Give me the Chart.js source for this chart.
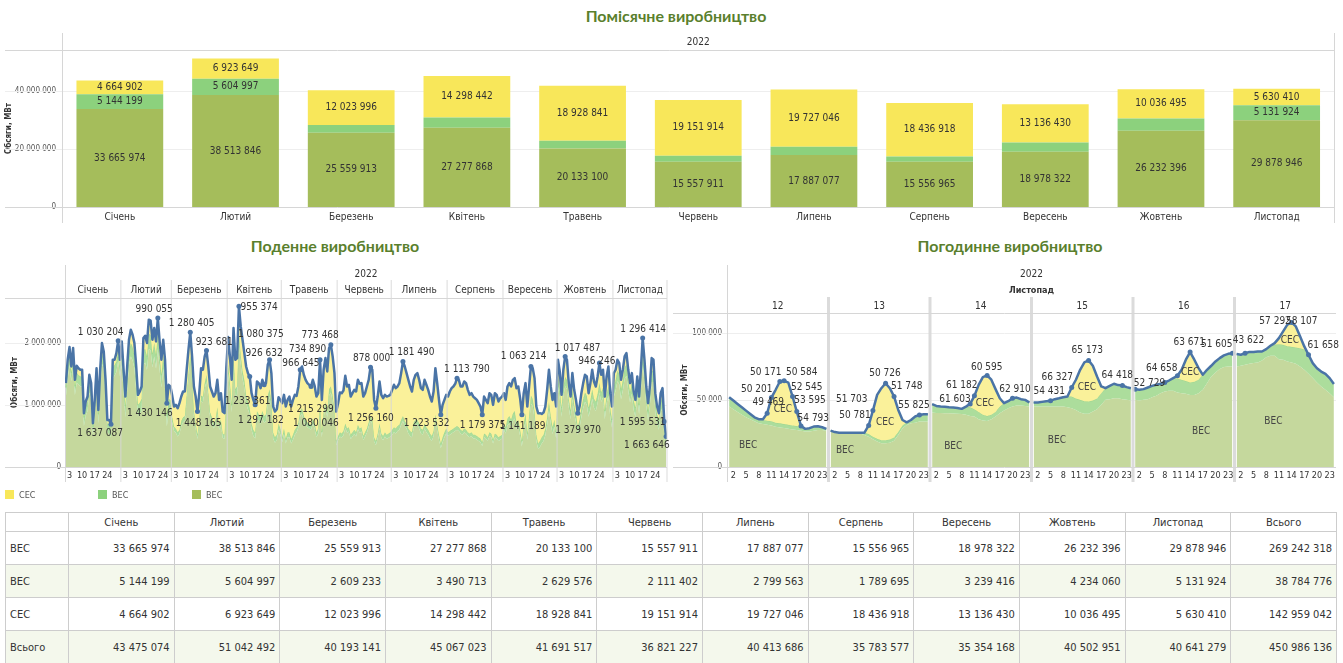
<!DOCTYPE html>
<html lang="uk">
<head>
<meta charset="utf-8">
<title>Виробництво 2022</title>
<script src="https://cdn.jsdelivr.net/npm/chart.js@4/dist/chart.umd.min.js"></script>
<style>
  html, body { margin: 0; padding: 0; background: #fff; }
  body { position: relative; width: 1343px; height: 663px; overflow: hidden;
         font-family: 'Liberation Sans Narrow', 'DejaVu Sans Condensed', Lato, sans-serif; color: #333; }
  .title { position: absolute; font: bold 16px Lato, sans-serif; line-height: 20px; color: #5a7f2d;
           transform: translateX(-50%); white-space: nowrap; }
  canvas { position: absolute; }
  #legend { position: absolute; left: 0; top: 489px; width: 400px; height: 12px; font-size: 9px; color: #555; }
  #legend span { position: absolute; top: 0; white-space: nowrap; line-height: 12px; }
  #legend i { display: inline-block; width: 9px; height: 9px; vertical-align: -1px; margin-right: 5px; }
  #tbl { position: absolute; left: 5px; top: 512px; border-collapse: collapse; table-layout: fixed;
         width: 1332px; font-size: 11px; color: #333; }
  #tbl th, #tbl td { border: 1px solid #cdcdcd; padding: 0 4px; white-space: nowrap; overflow: hidden; }
  #tbl th { font-weight: normal; height: 18px; text-align: center; }
  #tbl td { height: 32px; text-align: right; }
  #tbl td.name { text-align: left; }
  #tbl tr.alt td { background: #f4f8ec; }
</style>
</head>
<body>
<div class="title" style="left:676px; top:6px">Помісячне виробництво</div>
<div class="title" style="left:335px; top:236px">Поденне виробництво</div>
<div class="title" style="left:1010px; top:236px">Погодинне виробництво</div>

<canvas id="monthly" width="1343" height="200" style="left:0; top:28px"></canvas>
<canvas id="daily" width="672" height="232" style="left:0; top:258px"></canvas>
<canvas id="hourly" width="671" height="232" style="left:672px; top:258px"></canvas>

<div id="legend"></div>
<table id="tbl"></table>

<script>
const FONT = "'Liberation Sans Narrow', 'DejaVu Sans Condensed', Lato, sans-serif";
Chart.defaults.font.family = FONT;
Chart.defaults.color = '#333';

// ---- monthly data (MWh) ----
const months = ['Січень', 'Лютий', 'Березень', 'Квітень', 'Травень', 'Червень',
                'Липень', 'Серпень', 'Вересень', 'Жовтень', 'Листопад'];
const monthVes  = [33665974, 38513846, 25559913, 27277868, 20133100, 15557911, 17887077, 15556965, 18978322, 26232396, 29878946];
const monthVes2 = [5144199, 5604997, 2609233, 3490713, 2629576, 2111402, 2799563, 1789695, 3239416, 4234060, 5131924];
const monthSes  = [4664902, 6923649, 12023996, 14298442, 18928841, 19151914, 19727046, 18436918, 13136430, 10036495, 5630410];
const monthTotal = [43475074, 51042492, 40193141, 45067023, 41691517, 36821227, 40413686, 35783577, 35354168, 40502951, 40641279];
const seriesTotal = [269242318, 38784776, 142959042, 450986136];
const monthTicks = [0, 20000000, 40000000];

// ---- daily data (thousand MWh), one row per month ----
const monthDays = [31, 28, 31, 30, 31, 30, 31, 31, 30, 31, 30];
const dayTicks = [3, 10, 17, 24];
const dailyTotalK = [
  1350,1726,1930,1618,1914,1403,1630,1590,1565,1565,866,1054,1134,1484,1350,704,1080,1590,919,1565,1995,1860,1403,758,758,688,1726,1726,1833,2032,1726,
  2020,1565,1134,1618,2048,2210,2129,1995,1618,1161,1215,1296,2075,2113,1995,2371,2355,2048,2236,2021,2398,2021,1726,2048,1726,1027,1323,1296,
  1145,973,1000,946,1027,1134,1215,1215,1565,1887,2167,1780,1296,1134,892,1188,1591,1565,1780,1876,1618,1296,1215,1134,1188,1403,1080,1188,892,866,1591,
  2091,1780,1403,2236,1726,1753,2586,2263,2048,1833,1618,1511,1457,1188,1080,1000,1376,1350,1269,1403,1323,1350,1645,1726,1511,973,892,930,1124,1080,
  1027,1161,973,1080,1134,973,1080,1161,1145,1296,1565,1618,1484,1403,1350,1323,1296,1403,1306,1134,1188,1726,1080,1565,1753,1538,1914,1968,1780,1511,892,
  1027,1199,1188,1231,1468,1296,1323,1134,1188,1242,1215,1403,1339,1350,1134,1188,1296,1403,1607,1565,1080,946,1134,1376,1161,1107,1161,1134,1145,1161,
  1242,1323,1269,1296,1350,1511,1699,1618,1511,1403,1296,1215,1403,1484,1511,1403,1269,1242,1403,1323,1242,1134,1054,1215,1591,1350,1080,839,1000,1080,1161,
  1134,1215,1269,1296,1339,1430,1403,1296,1296,1376,1350,1242,1161,1188,1134,1107,1080,1027,973,839,1134,1080,1027,1188,1161,1000,1188,1161,1054,1107,1134,
  1188,1080,1296,1350,1296,1403,1430,1269,1296,1107,839,1188,1350,973,1296,1618,1591,1430,973,866,866,855,876,973,1242,1565,1296,1080,1188,973,
  1726,1538,1161,1565,1780,1726,1350,1134,1511,1242,1080,866,973,1188,1350,1484,1457,1188,1350,1565,1376,1296,1457,1672,1484,1565,1134,1457,1618,1188,973,
  1511,1565,1726,1672,1403,1565,1780,1833,1565,1350,1511,1215,1080,1457,1134,1565,2075,1726,1296,1027,1296,1753,1726,1188,973,866,1188,1269,731,489
];
// top of the light green (ВЕС) band
const dailyGreenTopK = [
  1280,1600,1800,1520,1760,1300,1520,1480,1460,1450,800,980,1060,1360,1240,640,1000,1470,850,1430,1830,1740,1300,700,690,630,1600,1640,1700,1880,1620,
  1850,1420,980,1450,1850,2000,1930,1800,1420,1000,1040,1100,1880,1900,1780,2150,2120,1820,2000,1800,2150,1780,1480,1800,1480,830,1100,1080,
  800,650,620,560,600,740,800,820,1150,1500,1800,1420,900,700,520,760,1150,1130,1350,1480,1200,880,800,700,760,960,680,760,540,520,1100,
  1650,1350,1000,1800,1250,1300,2150,1800,1550,1400,1150,1050,950,700,600,550,900,850,800,900,820,850,1150,1250,1050,550,480,520,700,620,
  480,620,450,560,560,450,520,600,640,720,900,950,820,760,720,700,680,780,700,560,620,1000,560,880,1050,880,1250,1300,1150,900,420,
  500,560,540,580,700,620,640,520,560,600,560,680,620,640,500,560,620,720,820,760,480,420,540,700,540,500,560,520,540,560,
  600,640,620,660,680,760,820,740,700,620,580,560,720,760,760,700,620,600,700,640,600,540,500,580,840,680,520,380,480,560,620,
  560,580,600,620,640,660,640,600,580,620,600,560,540,560,520,520,500,480,460,400,540,520,480,560,540,440,540,520,480,500,520,
  700,640,780,820,760,860,900,720,760,600,420,700,860,540,820,1150,1100,900,520,380,420,480,520,620,800,1050,820,640,760,560,
  1450,1250,950,1300,1450,1400,1100,900,1250,1000,850,650,760,950,1100,1200,1150,950,1080,1250,1100,1050,1180,1350,1200,1280,900,1180,1300,950,760,
  1300,1400,1550,1500,1250,1400,1600,1650,1400,1200,1350,1080,950,1300,1000,1400,1850,1550,1150,900,1150,1550,1550,1050,850,750,1050,1120,640,420
];
// top of the olive (ВЕС) area
const dailyVesTopK = [
  1130,1430,1640,1380,1600,1160,1360,1330,1300,1290,660,830,900,1200,1090,500,850,1310,700,1270,1660,1580,1150,560,540,480,1430,1470,1530,1710,1460,
  1640,1230,800,1240,1640,1780,1720,1590,1220,820,860,900,1650,1680,1560,1900,1880,1600,1780,1580,1900,1560,1280,1580,1270,650,900,880,
  720,580,550,490,530,660,720,740,1060,1400,1700,1330,820,620,450,680,1060,1040,1260,1380,1100,800,720,620,680,870,600,680,470,450,1000,
  1500,1220,880,1650,1120,1170,2000,1660,1420,1280,1030,930,840,600,500,460,790,740,690,790,710,740,1030,1130,940,460,390,430,600,520,
  400,540,380,480,480,380,440,520,560,640,820,860,740,680,640,620,600,700,620,480,540,920,480,800,960,800,1150,1200,1060,820,350,
  430,490,470,510,630,550,570,450,490,530,490,610,550,570,430,490,550,650,750,690,410,350,470,630,470,430,490,450,470,490,
  520,560,540,580,600,680,740,660,620,540,500,480,640,680,680,620,540,520,620,560,520,460,420,500,760,600,440,300,400,480,540,
  500,520,540,560,580,600,580,540,520,560,540,500,480,500,460,460,440,420,400,340,480,460,420,500,480,380,480,460,420,440,460,
  600,540,670,700,650,740,780,610,650,500,330,590,740,440,700,1020,980,780,420,290,320,380,420,510,680,920,700,530,650,460,
  1300,1100,810,1150,1300,1250,960,770,1100,860,720,520,630,810,950,1050,1000,810,930,1100,950,900,1030,1200,1050,1120,770,1030,1150,810,630,
  1130,1230,1380,1330,1090,1230,1420,1470,1230,1040,1180,920,800,1130,850,1230,1650,1370,990,750,990,1370,1370,890,700,600,890,950,500,300
];
const dailyDots = [25, 29, 51, 56, 69, 73, 78, 96, 102, 105, 110, 113, 130, 136, 141, 147, 169, 172, 187, 208, 217, 231, 253, 258, 277, 284, 296, 320, 332, 333];
// [day index, value (thousand MWh), text]
const dailyLabels = [
  [19.3, 2166, '1 030 204'], [19.0, 537, '1 637 087'], [49.0, 2544, '990 055'], [46.6, 866, '1 430 146'],
  [69.7, 2306, '1 280 405'], [82.3, 2005, '923 681'], [73.6, 694, '1 448 165'], [107.2, 2576, '955 374'],
  [108.2, 2140, '1 080 375'], [110.0, 1823, '926 632'], [100.8, 1053, '1 233 361'], [108.2, 742, '1 297 182'],
  [130.4, 1661, '966 645'], [134.1, 1887, '734 890'], [141.1, 2113, '773 468'], [135.9, 935, '1 215 299'],
  [138.7, 705, '1 080 046'], [169.6, 1753, '878 000'], [169.2, 785, '1 256 160'], [191.8, 1850, '1 181 490'],
  [200.1, 694, '1 223 532'], [222.5, 1565, '1 113 790'], [231.2, 677, '1 179 375'], [253.9, 1779, '1 063 214'],
  [253.4, 661, '1 141 189'], [283.9, 1915, '1 017 487'], [294.6, 1698, '946 246'], [284.2, 585, '1 379 970'],
  [320.3, 2221, '1 296 414'], [320.0, 721, '1 595 531'], [322.3, 344, '1 663 646']
];

// ---- hourly data, Листопад 12..17 (thousand MW), hours 1..24 ----
const hourDays = ['12', '13', '14', '15', '16', '17'];
const hourTicks = [2, 5, 8, 11, 14, 17, 20, 23];
const hourlyTotalK = [
  [52,49.5,47,44.5,42,39.5,37,35.6,35.6,40,51.7,57.5,63.7,64.2,62.9,52.5,41.3,30.6,28.4,28.9,30.1,30.3,29.6,28.4],
  [27.1,26,25.5,25.5,25.5,25.5,25.5,25.5,25.6,31,42,53.7,58.7,62.4,58.7,52.5,42.5,35,33.3,35,37.6,38.8,39.3,39.3],
  [46.8,45.5,45,44.8,44.5,44.3,44,43.3,45,47,53,61.2,67,68.2,65,58,51.2,47.5,49,51.2,51.7,50.5,50,48],
  [48,48,48.5,49,49.3,50.5,51.2,52,52.5,59.2,65,72.4,77.9,79.4,75.4,67.4,60,58.7,60.4,62,61,60.7,59.5,58.7],
  [58,57.5,58,59.2,60.4,61.2,62,63,64.4,66.2,67.9,72.4,79.9,85.6,79.9,73.6,68.7,72.4,75.4,78.6,81.1,83.1,84.3,84.8],
  [84.1,83.6,84.8,85.6,85.6,86,86,87.8,90.3,92.3,96,101,106,107.7,104.7,97.3,89.8,83.6,77.4,73.6,71.1,69.4,66.2,61.9]
];
const hourlyGreenTopK = [
  [52,49.5,47,44.5,42,39.5,37,35.6,35,34.5,34,33,32.5,32,31.5,31,30.5,30,28.4,28.9,30.1,30.3,29.6,28.4],
  [27.1,26,25.5,25.5,25.5,25.5,25.5,25.5,25.5,24.5,22.5,21,20,20,20.5,22,26,31,33.3,35,37.6,38.8,39.3,39.3],
  [46.8,45.5,45,44.8,44.5,44.3,44,43.3,45,44.5,43,41,39,38,39,41,45,47.5,49,51.2,51.7,50.5,50,48],
  [48,48,48.5,49,49.3,50.5,51.2,52,52.5,52.5,51,50,49,48.8,49.5,51,55,58.7,60.4,62,61,60.7,59.5,58.7],
  [58,57.5,58,59.2,60.4,61.2,62,63,64.4,66.2,66,65,64,63,63.5,65,68.7,72.4,75.4,78.6,81.1,83.1,84.3,84.8],
  [84.1,83.6,84.8,85.6,85.6,86,86,87.8,90.3,91,91.5,91,90,89.5,89,88.5,87.5,83.6,77.4,73.6,71.1,69.4,66.2,61.9]
];
const hourlyVesTopK = [
  [45,43,41,39,37,35.5,34,32.5,32,31.5,31,30,29.5,29,28.5,28,27.5,27,26.5,26.5,27,27.5,27.5,27],
  [26.4,25.4,25.2,25.2,25.2,25.2,25.2,25,23.9,22.6,20.6,18.9,17.7,17.7,18,19.5,23.9,28.9,31.3,32.6,33,33.8,33.8,33.8],
  [40.5,40.3,40.2,40,40,39.8,39.6,39.5,39,38,37.6,35.6,34.6,34.3,35.6,37.6,40,42,43.8,45,45.8,45.8,45.5,45],
  [45,45,45,45,45,45,45,45,44.5,43.8,42.5,40.5,39.6,39.6,41.3,43,46.3,50,50.5,51.2,51.2,50.5,50,49.5],
  [50,49.5,50,50.5,52,53,55,56.2,56.7,56.7,55.5,55,54.5,53.7,53.7,55,57.5,62.4,67.4,70.4,72.9,74.4,74.9,74.9],
  [74.9,75.4,76.1,76.9,77.4,77.9,79.4,81.8,82.8,82.8,80.3,79.9,78.6,77.9,76.9,74.9,72.4,69.4,66.2,62.9,60,57.5,55,52]
];
const hourlyDots = [10, 11, 13, 14, 16, 17, 18, 34, 35, 38, 40, 46, 58, 59, 62, 68, 77, 82, 86, 94, 97, 104, 107, 110, 120, 123, 134, 138];
const hourlyLabels = [
  [7.52, 58.0, '50 201'], [10.27, 48.0, '49 469'], [9.65, 70.7, '50 171'], [18.16, 70.7, '50 584'],
  [19.35, 59.5, '52 545'], [20.13, 49.3, '53 595'], [20.91, 36.3, '54 793'], [29.99, 50.0, '51 703'],
  [30.77, 38.1, '50 781'], [37.86, 69.4, '50 726'], [43.0, 59.9, '51 748'], [44.72, 45.7, '55 825'],
  [56.0, 60.7, '61 182'], [54.41, 50.7, '61 603'], [61.9, 74.4, '60 595'], [68.6, 58.0, '62 910'],
  [76.7, 56.2, '54 431'], [78.6, 66.9, '66 327'], [85.7, 86.6, '65 173'], [92.8, 67.9, '64 418'],
  [100.4, 62.5, '52 729'], [103.3, 73.1, '64 658'], [109.8, 93.1, '63 671'], [116.3, 91.6, '51 605'],
  [123.8, 94.3, '43 622'], [130.1, 108.4, '57 292'], [136.4, 108.4, '58 107'], [141.5, 90.3, '61 658']
];
const hourlyAreaLabels = [
  [13.7, 43.1, 'СЕС'], [5.5, 16.4, 'ВЕС'], [37.9, 33.4, 'СЕС'], [28.4, 12.7, 'ВЕС'],
  [61.5, 47.5, 'СЕС'], [54.0, 15.7, 'ВЕС'], [85.6, 59.5, 'СЕС'], [78.5, 20.1, 'ВЕС'],
  [110.0, 70.7, 'СЕС'], [112.6, 26.3, 'ВЕС'], [133.6, 94.0, 'СЕС'], [129.7, 33.8, 'ВЕС']
];

const C = {
  olive: '#a5bd5b', green: '#8cd17d', yellow: '#f8e75a',
  oliveArea: '#c5d89d', greenArea: '#acdd9c', greenEdge: '#9dd58b', yellowArea: '#faf19a',
  line: '#4a74a6', grid: '#eeeeee', axis: '#d6d6d6', sep: 'rgba(215,215,215,0.9)'
};

function fmt(n) {
  return String(Math.round(n)).replace(/\B(?=(\d{3})+(?!\d))/g, ' ');
}

function stroke(ctx, x1, y1, x2, y2) {
  ctx.beginPath(); ctx.moveTo(x1, y1); ctx.lineTo(x2, y2); ctx.stroke();
}

// grid lines, axis line and header texts drawn Tableau-style
function framePlugin(id, cfg) {
  return {
    id: id,
    beforeDatasetsDraw(chart) {
      const {ctx, chartArea: a, scales: {x, y}} = chart;
      ctx.save();
      ctx.lineWidth = 1;
      y.ticks.forEach(t => {
        const py = Math.round(y.getPixelForValue(t.value)) + 0.5;
        ctx.strokeStyle = t.value === 0 ? C.axis : C.grid;
        stroke(ctx, cfg.lineLeft, py, a.right, py);
      });
      ctx.strokeStyle = C.axis;
      stroke(ctx, cfg.lineLeft, Math.round(a.top) + 0.5, a.right, Math.round(a.top) + 0.5);
      stroke(ctx, Math.round(a.left) + 0.5, cfg.axisTop, Math.round(a.left) + 0.5, cfg.axisBottom);
      if (cfg.rightBorder) stroke(ctx, Math.round(a.right) - 0.5, cfg.axisTop, Math.round(a.right) - 0.5, cfg.axisBottom);
      ctx.fillStyle = '#333';
      ctx.textAlign = 'center';
      ctx.textBaseline = 'middle';
      (cfg.headers || []).forEach(h => {
        ctx.font = h.font;
        const px = h.x === undefined ? (a.left + a.right) / 2 : x.getPixelForValue(h.x);
        ctx.fillText(h.text, px, h.y);
      });
      ctx.restore();
    },
    afterDatasetsDraw(chart) {
      if (!cfg.separators) return;
      const {ctx, scales: {x}} = chart;
      ctx.save();
      ctx.strokeStyle = C.sep;
      ctx.lineWidth = cfg.sepWidth;
      cfg.separators.forEach(v => {
        const px = x.getPixelForValue(v);
        stroke(ctx, px, cfg.sepTop, px, cfg.sepBottom);
      });
      ctx.restore();
    }
  };
}

function textPlugin(id, items, font, color) {
  return {
    id: id,
    afterDatasetsDraw(chart) {
      const {ctx, scales: {x, y}} = chart;
      ctx.save();
      ctx.font = font;
      ctx.fillStyle = color;
      ctx.textAlign = 'center';
      ctx.textBaseline = 'middle';
      items.forEach(([vx, vy, t]) => ctx.fillText(t, x.getPixelForValue(vx), y.getPixelForValue(vy)));
      ctx.restore();
    }
  };
}

const barLabels = {
  id: 'barLabels',
  afterDatasetsDraw(chart) {
    const ctx = chart.ctx;
    ctx.save();
    ctx.font = '10px ' + FONT;
    ctx.fillStyle = '#333';
    ctx.textAlign = 'center';
    ctx.textBaseline = 'middle';
    chart.data.datasets.forEach((ds, i) => {
      chart.getDatasetMeta(i).data.forEach((bar, j) => {
        if (bar.base - bar.y < 13) return;
        ctx.fillText(fmt(ds.data[j]), bar.x, (bar.y + bar.base) / 2);
      });
    });
    ctx.restore();
  }
};

const yTitle = {display: true, text: 'Обсяги, МВт', color: '#333', font: {family: FONT, size: 8, weight: 'bold'}};
const noGrid = {display: false, drawTicks: false};

// ---------- monthly stacked bars ----------
new Chart(document.getElementById('monthly'), {
  type: 'bar',
  data: {
    labels: months,
    datasets: [
      {label: 'ВЕС', data: monthVes, backgroundColor: C.olive},
      {label: 'ВЕС', data: monthVes2, backgroundColor: C.green},
      {label: 'СЕС', data: monthSes, backgroundColor: C.yellow}
    ]
  },
  options: {
    responsive: false,
    animation: false,
    layout: {padding: {top: 22, right: 8.5, left: 0, bottom: 0}},
    datasets: {bar: {barPercentage: 0.75, categoryPercentage: 1}},
    plugins: {legend: {display: false}, tooltip: {enabled: false}},
    scales: {
      x: {
        stacked: true, grid: noGrid, border: {display: false},
        ticks: {font: {size: 10}, color: '#333', padding: 4, maxRotation: 0},
        afterFit(s) { s.height = 21; }
      },
      y: {
        stacked: true, min: 0, max: 54000000, grid: noGrid, border: {display: false},
        afterBuildTicks(s) { s.ticks = monthTicks.map(v => ({value: v})); },
        ticks: {font: {size: 8}, color: '#555', padding: 6, callback: v => fmt(v)},
        title: Object.assign({padding: {top: 4, bottom: 0}}, yTitle),
        afterFit(s) { s.width = 62; }
      }
    }
  },
  plugins: [
    framePlugin('frameM', {lineLeft: 5, axisTop: 5, axisBottom: 195, rightBorder: true,
      headers: [{text: '2022', y: 14.5, font: '10px ' + FONT}]}),
    barLabels
  ]
});

// ---------- daily areas + line ----------
const monthStart = [];
let acc = 0;
monthDays.forEach(n => { monthStart.push(acc); acc += n; });
const dailyTickPos = [], dailyTickText = [];
monthStart.forEach(s => dayTicks.forEach(d => { dailyTickPos.push(s + d - 1); dailyTickText.push(String(d)); }));
const dayPts = arr => arr.map((v, i) => ({x: i, y: v}));

new Chart(document.getElementById('daily'), {
  type: 'line',
  data: {
    datasets: [
      {label: 'ВЕС', data: dayPts(dailyVesTopK), fill: 'origin', backgroundColor: C.oliveArea,
       borderWidth: 0, pointRadius: 0, order: 2},
      {label: 'ВЕС', data: dayPts(dailyGreenTopK), fill: '-1', backgroundColor: C.greenArea,
       borderColor: C.greenEdge, borderWidth: 1, pointRadius: 0, order: 1},
      {label: 'СЕС', data: dayPts(dailyTotalK), fill: '-1', backgroundColor: C.yellowArea,
       borderColor: C.line, borderWidth: 2.5, borderJoinStyle: 'round', order: 0,
       pointRadius: ctx => dailyDots.includes(ctx.dataIndex) ? 2.5 : 0,
       pointBackgroundColor: C.line, pointBorderWidth: 0}
    ]
  },
  options: {
    responsive: false,
    animation: false,
    layout: {padding: {top: 40, right: 5, left: 0, bottom: 0}},
    plugins: {legend: {display: false}, tooltip: {enabled: false}},
    scales: {
      x: {
        type: 'linear', min: -0.5, max: 333.5, grid: noGrid, border: {display: false},
        afterBuildTicks(s) { s.ticks = dailyTickPos.map(v => ({value: v})); },
        ticks: {autoSkip: false, maxRotation: 0, font: {size: 9}, color: '#333', padding: 3,
                callback: (v, i) => dailyTickText[i]},
        afterFit(s) { s.height = 23; }
      },
      y: {
        min: 0, max: 2720, grid: noGrid, border: {display: false},
        afterBuildTicks(s) { s.ticks = [0, 1000, 2000].map(v => ({value: v})); },
        ticks: {font: {size: 8}, color: '#555', padding: 4, callback: v => fmt(v * 1000)},
        title: Object.assign({padding: {top: 10, bottom: 0}}, yTitle),
        afterFit(s) { s.width = 65; }
      }
    }
  },
  plugins: [
    framePlugin('frameD', {
      lineLeft: 5, axisTop: 7, axisBottom: 224,
      separators: monthStart.slice(1).map(s => s - 0.5).concat([333.5]),
      sepWidth: 1, sepTop: 22, sepBottom: 224,
      headers: [{text: '2022', y: 16, font: '10px ' + FONT}].concat(
        months.map((m, i) => ({text: m, x: monthStart[i] + monthDays[i] / 2 - 0.5, y: 32, font: '10px ' + FONT})))
    }),
    textPlugin('labelsD', dailyLabels, '10px ' + FONT, '#333')
  ]
});

// ---------- hourly areas + line ----------
function hourPts(days) {
  const pts = [];
  days.forEach((day, d) => {
    day.forEach((v, h) => pts.push({x: d * 24 + h + 1, y: v}));
    if (d < days.length - 1) pts.push({x: d * 24 + 24.5, y: null});
  });
  return pts;
}
const hourTickPos = [], hourTickText = [];
hourDays.forEach((_, d) => hourTicks.forEach(h => { hourTickPos.push(d * 24 + h); hourTickText.push(String(h)); }));

new Chart(document.getElementById('hourly'), {
  type: 'line',
  data: {
    datasets: [
      {label: 'ВЕС', data: hourPts(hourlyVesTopK), fill: 'origin', backgroundColor: C.oliveArea,
       borderWidth: 0, pointRadius: 0, order: 2},
      {label: 'ВЕС', data: hourPts(hourlyGreenTopK), fill: '-1', backgroundColor: C.greenArea,
       borderColor: C.greenEdge, borderWidth: 1, pointRadius: 0, order: 1},
      {label: 'СЕС', data: hourPts(hourlyTotalK), fill: '-1', backgroundColor: C.yellowArea,
       borderColor: C.line, borderWidth: 2.5, borderJoinStyle: 'round', order: 0,
       pointRadius: ctx => (ctx.raw && hourlyDots.includes(ctx.raw.x)) ? 2.5 : 0,
       pointBackgroundColor: C.line, pointBorderWidth: 0}
    ]
  },
  options: {
    responsive: false,
    animation: false,
    layout: {padding: {top: 55, right: 7, left: 0, bottom: 0}},
    plugins: {legend: {display: false}, tooltip: {enabled: false}},
    scales: {
      x: {
        type: 'linear', min: 0.5, max: 144.5, grid: noGrid, border: {display: false},
        afterBuildTicks(s) { s.ticks = hourTickPos.map(v => ({value: v})); },
        ticks: {autoSkip: false, maxRotation: 0, font: {size: 9}, color: '#333', padding: 3,
                callback: (v, i) => hourTickText[i]},
        afterFit(s) { s.height = 23; }
      },
      y: {
        min: 0, max: 114.7, grid: noGrid, border: {display: false},
        afterBuildTicks(s) { s.ticks = [0, 50, 100].map(v => ({value: v})); },
        ticks: {font: {size: 8}, color: '#555', padding: 5, callback: v => fmt(v * 1000)},
        title: Object.assign({padding: {top: 8, bottom: 0}}, yTitle),
        afterFit(s) { s.width = 55; }
      }
    }
  },
  plugins: [
    framePlugin('frameH', {
      lineLeft: 1, axisTop: 7, axisBottom: 224,
      separators: [24.5, 48.5, 72.5, 96.5, 120.5],
      sepWidth: 3, sepTop: 39, sepBottom: 224,
      headers: [{text: '2022', y: 16, font: '10px ' + FONT},
                {text: 'Листопад', y: 32.5, font: 'bold 9px ' + FONT}].concat(
        hourDays.map((d, i) => ({text: d, x: i * 24 + 12.5, y: 48, font: '10px ' + FONT})))
    }),
    textPlugin('areasH', hourlyAreaLabels, '10px ' + FONT, '#444'),
    textPlugin('labelsH', hourlyLabels, '10px ' + FONT, '#333')
  ]
});

// ---------- legend ----------
const legendItems = [['СЕС', C.yellow, 5], ['ВЕС', C.green, 98], ['ВЕС', C.olive, 192]];
document.getElementById('legend').innerHTML = legendItems
  .map(([t, c, x]) => `<span style="left:${x}px"><i style="background:${c}"></i>${t}</span>`).join('');

// ---------- table ----------
const tableRows = [
  ['ВЕС', monthVes, seriesTotal[0]],
  ['ВЕС', monthVes2, seriesTotal[1]],
  ['СЕС', monthSes, seriesTotal[2]],
  ['Всього', monthTotal, seriesTotal[3]]
];
let html = '<colgroup><col style="width:63px">' + months.map(() => '<col>').join('') + '<col></colgroup>';
html += '<tr><th></th>' + months.map(m => `<th>${m}</th>`).join('') + '<th>Всього</th></tr>';
tableRows.forEach((r, i) => {
  html += `<tr class="${i % 2 ? 'alt' : ''}"><td class="name">${r[0]}</td>` +
    r[1].map(v => `<td>${fmt(v)}</td>`).join('') + `<td>${fmt(r[2])}</td></tr>`;
});
document.getElementById('tbl').innerHTML = html;
</script>
</body>
</html>
